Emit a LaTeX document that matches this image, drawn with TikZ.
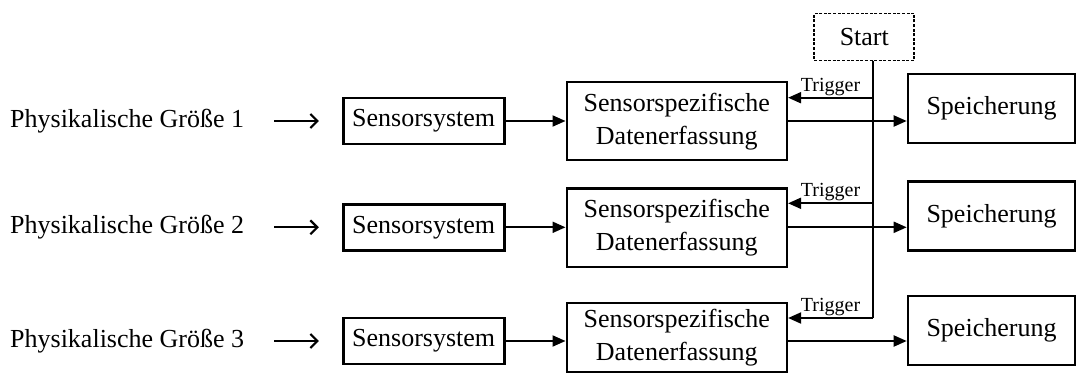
\documentclass[tikz,border=0pt]{standalone}
\usepackage{fontspec}
\setmainfont{Liberation Serif}
\usetikzlibrary{arrows.meta,calc}

\tikzset{
  x=1pt, y=-1pt,
  every node/.style={font=\fontsize{26pt}{33pt}\selectfont},
  block/.style={draw, line width=2.6pt, rectangle, inner sep=0pt, align=center},
  sensbox/.style={block, minimum width=161pt, minimum height=46pt},
  daqbox/.style={block, minimum width=220pt, minimum height=78pt},
  storebox/.style={block, minimum width=167pt, minimum height=69pt},
  startbox/.style={draw, line width=1.8pt, dash pattern=on 3pt off 1.6pt,
    rectangle, minimum width=100pt, minimum height=47pt, inner sep=0pt},
  quantity/.style={anchor=west, inner sep=0pt},
  trig/.style={font=\fontsize{20pt}{22pt}\selectfont, anchor=south, inner sep=1pt},
  flow/.style={line width=2pt, -{Triangle[length=13pt,width=11pt]}},
  feed/.style={line width=2.2pt, -{Straight Barb[length=7pt,width=14pt]},
    shorten <=30pt, shorten >=23pt},
  bus/.style={line width=2pt}
}

\begin{document}
\begin{tikzpicture}
\useasboundingbox (0,0) rectangle (1078,374);

% start signal
\node[startbox] (start) at (864.3,37) {Start};
\coordinate (busend) at (873,318);
\draw[bus] (start.south -| busend) -- (busend);

% three measurement chains
\foreach \i/\ys/\yd/\hd/\yp/\yt in {1/121/121.2/78/108.5/97.7,
                                     2/227.3/227.8/78/216.2/203.3,
                                     3/341/337.4/69/330.5/318}{
  \node[quantity] (q\i) at (10,\ys) {Physikalische Größe \i};
  \node[sensbox] (s\i) at (423.7,\ys) {Sensorsystem};
  \node[daqbox, minimum height=\hd pt] (d\i) at (676.8,\yd)
    {Sensorspezifische\\Datenerfassung};
  \node[storebox] (m\i) at (991.5,\yp) {Speicherung};
  \coordinate (t\i) at (873,\yt);

  \draw[feed] (q\i.east) -- (q\i.east -| s\i.west);
  \draw[flow] (s\i.east) -- (s\i.east -| d\i.west);
  \draw[flow] (s\i.east -| d\i.east) -- (s\i.east -| m\i.west);
  \draw[flow] (t\i) -- (t\i -| d\i.east);
  \node[trig] (g\i) at ($(t\i -| d\i.east)!0.5!(t\i) + (0,-1)$) {Trigger};
}
\end{tikzpicture}
\end{document}
